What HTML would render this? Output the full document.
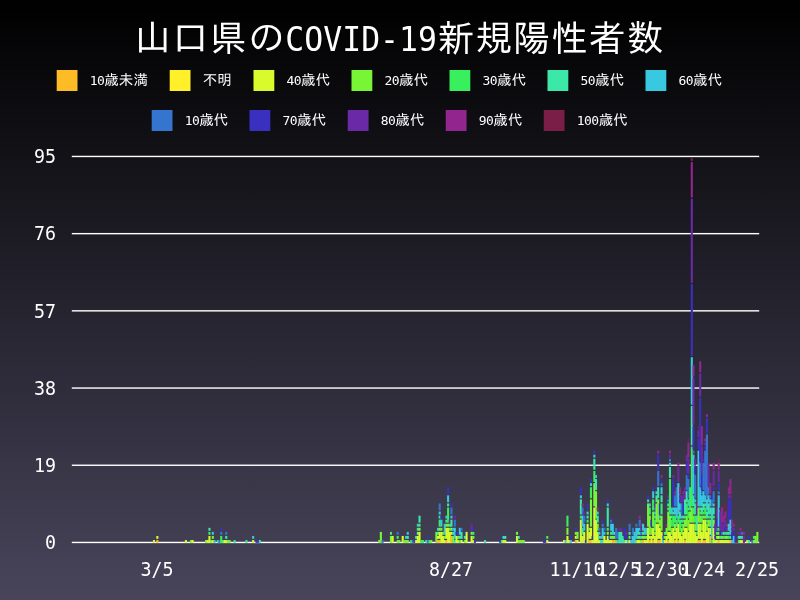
<!DOCTYPE html>
<html lang="ja"><head><meta charset="utf-8"><title>山口県のCOVID-19新規陽性者数</title>
<style>
html,body{margin:0;padding:0;background:#000}
body{width:800px;height:600px;overflow:hidden;font-family:"DejaVu Sans Mono","IPAGothic",monospace}
svg{display:block}
text{fill:#fff}
</style></head><body>
<svg width="800" height="600" viewBox="0 0 800 600">
<defs><linearGradient id="bg" x1="0" y1="0" x2="0" y2="1"><stop offset="0" stop-color="#000000"/><stop offset="1" stop-color="#48455b"/></linearGradient></defs>
<rect x="0" y="0" width="800" height="600" fill="url(#bg)"/>
<text x="133.8" y="51.3"><tspan font-family="IPAGothic,'WenQuanYi Zen Hei','Noto Sans CJK JP',sans-serif" font-size="36.2" letter-spacing="1.700" dx="0.85">山口県の</tspan><tspan font-family="'DejaVu Sans Mono','Liberation Mono',monospace" font-size="34.5" textLength="151.60" lengthAdjust="spacingAndGlyphs" dx="-0.85">COVID-19</tspan><tspan font-family="IPAGothic,'WenQuanYi Zen Hei','Noto Sans CJK JP',sans-serif" font-size="36.2" letter-spacing="1.700" dx="0.85">新規陽性者数</tspan></text>
<rect x="56.7" y="70" width="20.8" height="21" fill="#fdbc25"/>
<text x="89.7" y="85.3"><tspan font-family="'DejaVu Sans Mono','Liberation Mono',monospace" font-size="13" letter-spacing="-0.526">10</tspan><tspan font-family="IPAGothic,'WenQuanYi Zen Hei','Noto Sans CJK JP',sans-serif" font-size="14.55">歳未満</tspan></text>
<rect x="169.7" y="70" width="20.8" height="21" fill="#fff02a"/>
<text x="202.7" y="85.3"><tspan font-family="IPAGothic,'WenQuanYi Zen Hei','Noto Sans CJK JP',sans-serif" font-size="14.55">不明</tspan></text>
<rect x="253.5" y="70" width="20.8" height="21" fill="#d9fb2c"/>
<text x="286.5" y="85.3"><tspan font-family="'DejaVu Sans Mono','Liberation Mono',monospace" font-size="13" letter-spacing="-0.526">40</tspan><tspan font-family="IPAGothic,'WenQuanYi Zen Hei','Noto Sans CJK JP',sans-serif" font-size="14.55">歳代</tspan></text>
<rect x="351.5" y="70" width="20.8" height="21" fill="#78f534"/>
<text x="384.5" y="85.3"><tspan font-family="'DejaVu Sans Mono','Liberation Mono',monospace" font-size="13" letter-spacing="-0.526">20</tspan><tspan font-family="IPAGothic,'WenQuanYi Zen Hei','Noto Sans CJK JP',sans-serif" font-size="14.55">歳代</tspan></text>
<rect x="449.5" y="70" width="20.8" height="21" fill="#38f05e"/>
<text x="482.5" y="85.3"><tspan font-family="'DejaVu Sans Mono','Liberation Mono',monospace" font-size="13" letter-spacing="-0.526">30</tspan><tspan font-family="IPAGothic,'WenQuanYi Zen Hei','Noto Sans CJK JP',sans-serif" font-size="14.55">歳代</tspan></text>
<rect x="547.5" y="70" width="20.8" height="21" fill="#3ce8a8"/>
<text x="580.5" y="85.3"><tspan font-family="'DejaVu Sans Mono','Liberation Mono',monospace" font-size="13" letter-spacing="-0.526">50</tspan><tspan font-family="IPAGothic,'WenQuanYi Zen Hei','Noto Sans CJK JP',sans-serif" font-size="14.55">歳代</tspan></text>
<rect x="645.5" y="70" width="20.8" height="21" fill="#38c8e0"/>
<text x="678.5" y="85.3"><tspan font-family="'DejaVu Sans Mono','Liberation Mono',monospace" font-size="13" letter-spacing="-0.526">60</tspan><tspan font-family="IPAGothic,'WenQuanYi Zen Hei','Noto Sans CJK JP',sans-serif" font-size="14.55">歳代</tspan></text>
<rect x="151.7" y="110" width="20.8" height="21" fill="#3575d0"/>
<text x="184.7" y="125.3"><tspan font-family="'DejaVu Sans Mono','Liberation Mono',monospace" font-size="13" letter-spacing="-0.526">10</tspan><tspan font-family="IPAGothic,'WenQuanYi Zen Hei','Noto Sans CJK JP',sans-serif" font-size="14.55">歳代</tspan></text>
<rect x="249.5" y="110" width="20.8" height="21" fill="#3a30c0"/>
<text x="282.5" y="125.3"><tspan font-family="'DejaVu Sans Mono','Liberation Mono',monospace" font-size="13" letter-spacing="-0.526">70</tspan><tspan font-family="IPAGothic,'WenQuanYi Zen Hei','Noto Sans CJK JP',sans-serif" font-size="14.55">歳代</tspan></text>
<rect x="347.75" y="110" width="20.8" height="21" fill="#6a2aa8"/>
<text x="380.75" y="125.3"><tspan font-family="'DejaVu Sans Mono','Liberation Mono',monospace" font-size="13" letter-spacing="-0.526">80</tspan><tspan font-family="IPAGothic,'WenQuanYi Zen Hei','Noto Sans CJK JP',sans-serif" font-size="14.55">歳代</tspan></text>
<rect x="445.75" y="110" width="20.8" height="21" fill="#92268e"/>
<text x="478.75" y="125.3"><tspan font-family="'DejaVu Sans Mono','Liberation Mono',monospace" font-size="13" letter-spacing="-0.526">90</tspan><tspan font-family="IPAGothic,'WenQuanYi Zen Hei','Noto Sans CJK JP',sans-serif" font-size="14.55">歳代</tspan></text>
<rect x="543.75" y="110" width="20.8" height="21" fill="#7a1e48"/>
<text x="576.75" y="125.3"><tspan font-family="'DejaVu Sans Mono','Liberation Mono',monospace" font-size="13" letter-spacing="-0.526">100</tspan><tspan font-family="IPAGothic,'WenQuanYi Zen Hei','Noto Sans CJK JP',sans-serif" font-size="14.55">歳代</tspan></text>
<rect x="71.8" y="155.75" width="687.4" height="1.4" fill="#fff"/>
<text transform="translate(56,163.2) scale(0.94,1)" font-size="19.5" text-anchor="end" font-family="'DejaVu Sans Mono','Liberation Mono',monospace" >95</text>
<rect x="71.8" y="232.95" width="687.4" height="1.4" fill="#fff"/>
<text transform="translate(56,240.4) scale(0.94,1)" font-size="19.5" text-anchor="end" font-family="'DejaVu Sans Mono','Liberation Mono',monospace" >76</text>
<rect x="71.8" y="310.15" width="687.4" height="1.4" fill="#fff"/>
<text transform="translate(56,317.6) scale(0.94,1)" font-size="19.5" text-anchor="end" font-family="'DejaVu Sans Mono','Liberation Mono',monospace" >57</text>
<rect x="71.8" y="387.35" width="687.4" height="1.4" fill="#fff"/>
<text transform="translate(56,394.8) scale(0.94,1)" font-size="19.5" text-anchor="end" font-family="'DejaVu Sans Mono','Liberation Mono',monospace" >38</text>
<rect x="71.8" y="464.55" width="687.4" height="1.4" fill="#fff"/>
<text transform="translate(56,472) scale(0.94,1)" font-size="19.5" text-anchor="end" font-family="'DejaVu Sans Mono','Liberation Mono',monospace" >19</text>
<rect x="71.8" y="541.75" width="687.4" height="1.4" fill="#fff"/>
<text transform="translate(56,549.2) scale(0.94,1)" font-size="19.5" text-anchor="end" font-family="'DejaVu Sans Mono','Liberation Mono',monospace" >0</text>
<text transform="translate(157,576.2) scale(0.94,1)" font-size="19.5" text-anchor="middle" font-family="'DejaVu Sans Mono','Liberation Mono',monospace" >3/5</text>
<text transform="translate(451,576.2) scale(0.94,1)" font-size="19.5" text-anchor="middle" font-family="'DejaVu Sans Mono','Liberation Mono',monospace" >8/27</text>
<text transform="translate(577,576.2) scale(0.94,1)" font-size="19.5" text-anchor="middle" font-family="'DejaVu Sans Mono','Liberation Mono',monospace" >11/10</text>
<text transform="translate(619,576.2) scale(0.94,1)" font-size="19.5" text-anchor="middle" font-family="'DejaVu Sans Mono','Liberation Mono',monospace" >12/5</text>
<text transform="translate(661,576.2) scale(0.94,1)" font-size="19.5" text-anchor="middle" font-family="'DejaVu Sans Mono','Liberation Mono',monospace" >12/30</text>
<text transform="translate(703,576.2) scale(0.94,1)" font-size="19.5" text-anchor="middle" font-family="'DejaVu Sans Mono','Liberation Mono',monospace" >1/24</text>
<text transform="translate(757,576.2) scale(0.94,1)" font-size="19.5" text-anchor="middle" font-family="'DejaVu Sans Mono','Liberation Mono',monospace" >2/25</text>
<g id="bars" shape-rendering="auto">
<rect x="152.93" y="540.04" width="2.10" height="2.86" fill="#d9fb2c"/>
<rect x="156.30" y="540.04" width="2.10" height="2.86" fill="#fdbc25"/>
<rect x="156.30" y="535.97" width="2.10" height="2.86" fill="#d9fb2c"/>
<rect x="184.87" y="540.04" width="2.10" height="2.86" fill="#d9fb2c"/>
<rect x="189.91" y="540.04" width="2.10" height="2.86" fill="#78f534"/>
<rect x="191.59" y="540.04" width="2.10" height="2.86" fill="#d9fb2c"/>
<rect x="205.04" y="540.04" width="2.10" height="2.86" fill="#78f534"/>
<rect x="206.72" y="540.04" width="2.10" height="2.86" fill="#d9fb2c"/>
<rect x="208.40" y="535.97" width="2.10" height="6.93" fill="#d9fb2c"/>
<rect x="208.40" y="531.91" width="2.10" height="2.86" fill="#38f05e"/>
<rect x="208.40" y="527.85" width="2.10" height="2.86" fill="#3ce8a8"/>
<rect x="210.08" y="540.04" width="2.10" height="2.86" fill="#78f534"/>
<rect x="211.76" y="540.04" width="2.10" height="2.86" fill="#d9fb2c"/>
<rect x="211.76" y="535.97" width="2.10" height="2.86" fill="#78f534"/>
<rect x="211.76" y="531.91" width="2.10" height="2.86" fill="#38c8e0"/>
<rect x="213.44" y="540.04" width="2.10" height="2.86" fill="#38c8e0"/>
<rect x="216.80" y="540.04" width="2.10" height="2.86" fill="#3ce8a8"/>
<rect x="218.48" y="540.04" width="2.10" height="2.86" fill="#3575d0"/>
<rect x="220.16" y="535.97" width="2.10" height="6.93" fill="#38f05e"/>
<rect x="220.16" y="531.91" width="2.10" height="2.86" fill="#3575d0"/>
<rect x="220.16" y="527.85" width="2.10" height="2.86" fill="#3a30c0"/>
<rect x="221.84" y="540.04" width="2.10" height="2.86" fill="#38f05e"/>
<rect x="223.52" y="540.04" width="2.10" height="2.86" fill="#d9fb2c"/>
<rect x="225.20" y="540.04" width="2.10" height="2.86" fill="#d9fb2c"/>
<rect x="225.20" y="535.97" width="2.10" height="2.86" fill="#3ce8a8"/>
<rect x="225.20" y="531.91" width="2.10" height="2.86" fill="#3575d0"/>
<rect x="226.88" y="540.04" width="2.10" height="2.86" fill="#78f534"/>
<rect x="228.57" y="540.04" width="2.10" height="2.86" fill="#78f534"/>
<rect x="233.61" y="540.04" width="2.10" height="2.86" fill="#3ce8a8"/>
<rect x="245.37" y="540.04" width="2.10" height="2.86" fill="#3ce8a8"/>
<rect x="252.10" y="540.04" width="2.10" height="2.86" fill="#d9fb2c"/>
<rect x="252.10" y="535.97" width="2.10" height="2.86" fill="#38c8e0"/>
<rect x="255.46" y="540.04" width="2.10" height="2.86" fill="#3a30c0"/>
<rect x="257.14" y="540.04" width="2.10" height="2.86" fill="#3a30c0"/>
<rect x="258.82" y="540.04" width="2.10" height="2.86" fill="#3ce8a8"/>
<rect x="378.15" y="540.04" width="2.10" height="2.86" fill="#78f534"/>
<rect x="379.83" y="531.91" width="2.10" height="10.99" fill="#78f534"/>
<rect x="381.51" y="540.04" width="2.10" height="2.86" fill="#3575d0"/>
<rect x="389.91" y="535.97" width="2.10" height="6.93" fill="#78f534"/>
<rect x="389.91" y="531.91" width="2.10" height="2.86" fill="#38f05e"/>
<rect x="391.59" y="535.97" width="2.10" height="6.93" fill="#d9fb2c"/>
<rect x="396.64" y="540.04" width="2.10" height="2.86" fill="#78f534"/>
<rect x="396.64" y="535.97" width="2.10" height="2.86" fill="#38f05e"/>
<rect x="396.64" y="531.91" width="2.10" height="2.86" fill="#3575d0"/>
<rect x="398.32" y="540.04" width="2.10" height="2.86" fill="#78f534"/>
<rect x="401.68" y="535.97" width="2.10" height="6.93" fill="#d9fb2c"/>
<rect x="403.36" y="540.04" width="2.10" height="2.86" fill="#78f534"/>
<rect x="405.04" y="540.04" width="2.10" height="2.86" fill="#78f534"/>
<rect x="405.04" y="535.97" width="2.10" height="2.86" fill="#38c8e0"/>
<rect x="406.72" y="540.04" width="2.10" height="2.86" fill="#78f534"/>
<rect x="406.72" y="535.97" width="2.10" height="2.86" fill="#3ce8a8"/>
<rect x="406.72" y="531.91" width="2.10" height="2.86" fill="#38c8e0"/>
<rect x="410.08" y="540.04" width="2.10" height="2.86" fill="#38f05e"/>
<rect x="411.76" y="540.04" width="2.10" height="2.86" fill="#3575d0"/>
<rect x="413.44" y="540.04" width="2.10" height="2.86" fill="#3a30c0"/>
<rect x="415.12" y="540.04" width="2.10" height="2.86" fill="#d9fb2c"/>
<rect x="415.12" y="535.97" width="2.10" height="2.86" fill="#3ce8a8"/>
<rect x="415.12" y="531.91" width="2.10" height="2.86" fill="#3a30c0"/>
<rect x="416.80" y="535.97" width="2.10" height="6.93" fill="#d9fb2c"/>
<rect x="416.80" y="531.91" width="2.10" height="2.86" fill="#78f534"/>
<rect x="416.80" y="527.85" width="2.10" height="2.86" fill="#3ce8a8"/>
<rect x="416.80" y="523.78" width="2.10" height="2.86" fill="#38c8e0"/>
<rect x="418.48" y="531.91" width="2.10" height="10.99" fill="#d9fb2c"/>
<rect x="418.48" y="527.85" width="2.10" height="2.86" fill="#78f534"/>
<rect x="418.48" y="523.78" width="2.10" height="2.86" fill="#38f05e"/>
<rect x="418.48" y="515.66" width="2.10" height="6.93" fill="#3ce8a8"/>
<rect x="420.17" y="540.04" width="2.10" height="2.86" fill="#38f05e"/>
<rect x="421.85" y="540.04" width="2.10" height="2.86" fill="#38f05e"/>
<rect x="425.21" y="540.04" width="2.10" height="2.86" fill="#3ce8a8"/>
<rect x="426.89" y="540.04" width="2.10" height="2.86" fill="#3575d0"/>
<rect x="426.89" y="535.97" width="2.10" height="2.86" fill="#3a30c0"/>
<rect x="428.57" y="540.04" width="2.10" height="2.86" fill="#38f05e"/>
<rect x="430.25" y="540.04" width="2.10" height="2.86" fill="#78f534"/>
<rect x="435.29" y="531.91" width="2.10" height="10.99" fill="#78f534"/>
<rect x="436.97" y="540.04" width="2.10" height="2.86" fill="#fdbc25"/>
<rect x="436.97" y="535.97" width="2.10" height="2.86" fill="#d9fb2c"/>
<rect x="436.97" y="531.91" width="2.10" height="2.86" fill="#3ce8a8"/>
<rect x="436.97" y="527.85" width="2.10" height="2.86" fill="#38c8e0"/>
<rect x="438.65" y="540.04" width="2.10" height="2.86" fill="#fdbc25"/>
<rect x="438.65" y="531.91" width="2.10" height="6.93" fill="#d9fb2c"/>
<rect x="438.65" y="527.85" width="2.10" height="2.86" fill="#78f534"/>
<rect x="438.65" y="519.72" width="2.10" height="6.93" fill="#38f05e"/>
<rect x="438.65" y="515.66" width="2.10" height="2.86" fill="#3ce8a8"/>
<rect x="438.65" y="511.59" width="2.10" height="2.86" fill="#38c8e0"/>
<rect x="438.65" y="503.47" width="2.10" height="6.93" fill="#3575d0"/>
<rect x="440.33" y="531.91" width="2.10" height="10.99" fill="#d9fb2c"/>
<rect x="440.33" y="527.85" width="2.10" height="2.86" fill="#78f534"/>
<rect x="440.33" y="519.72" width="2.10" height="6.93" fill="#38c8e0"/>
<rect x="440.33" y="515.66" width="2.10" height="2.86" fill="#3a30c0"/>
<rect x="442.01" y="535.97" width="2.10" height="6.93" fill="#d9fb2c"/>
<rect x="442.01" y="531.91" width="2.10" height="2.86" fill="#78f534"/>
<rect x="443.70" y="540.04" width="2.10" height="2.86" fill="#d9fb2c"/>
<rect x="443.70" y="535.97" width="2.10" height="2.86" fill="#78f534"/>
<rect x="443.70" y="523.78" width="2.10" height="10.99" fill="#38c8e0"/>
<rect x="445.38" y="540.04" width="2.10" height="2.86" fill="#fdbc25"/>
<rect x="445.38" y="527.85" width="2.10" height="10.99" fill="#d9fb2c"/>
<rect x="445.38" y="523.78" width="2.10" height="2.86" fill="#78f534"/>
<rect x="445.38" y="519.72" width="2.10" height="2.86" fill="#3ce8a8"/>
<rect x="445.38" y="515.66" width="2.10" height="2.86" fill="#38c8e0"/>
<rect x="447.06" y="527.85" width="2.10" height="15.05" fill="#d9fb2c"/>
<rect x="447.06" y="523.78" width="2.10" height="2.86" fill="#78f534"/>
<rect x="447.06" y="507.53" width="2.10" height="15.05" fill="#38f05e"/>
<rect x="447.06" y="503.47" width="2.10" height="2.86" fill="#3ce8a8"/>
<rect x="447.06" y="495.34" width="2.10" height="6.93" fill="#38c8e0"/>
<rect x="447.06" y="487.22" width="2.10" height="6.93" fill="#3a30c0"/>
<rect x="448.74" y="531.91" width="2.10" height="10.99" fill="#d9fb2c"/>
<rect x="448.74" y="527.85" width="2.10" height="2.86" fill="#78f534"/>
<rect x="448.74" y="523.78" width="2.10" height="2.86" fill="#38f05e"/>
<rect x="448.74" y="519.72" width="2.10" height="2.86" fill="#6a2aa8"/>
<rect x="450.42" y="535.97" width="2.10" height="6.93" fill="#fdbc25"/>
<rect x="450.42" y="531.91" width="2.10" height="2.86" fill="#d9fb2c"/>
<rect x="450.42" y="527.85" width="2.10" height="2.86" fill="#78f534"/>
<rect x="450.42" y="519.72" width="2.10" height="6.93" fill="#3ce8a8"/>
<rect x="450.42" y="515.66" width="2.10" height="2.86" fill="#38c8e0"/>
<rect x="450.42" y="507.53" width="2.10" height="6.93" fill="#3575d0"/>
<rect x="450.42" y="503.47" width="2.10" height="2.86" fill="#3a30c0"/>
<rect x="452.10" y="535.97" width="2.10" height="6.93" fill="#78f534"/>
<rect x="452.10" y="531.91" width="2.10" height="2.86" fill="#3ce8a8"/>
<rect x="452.10" y="527.85" width="2.10" height="2.86" fill="#38c8e0"/>
<rect x="453.78" y="540.04" width="2.10" height="2.86" fill="#3ce8a8"/>
<rect x="453.78" y="527.85" width="2.10" height="10.99" fill="#38c8e0"/>
<rect x="453.78" y="519.72" width="2.10" height="6.93" fill="#3575d0"/>
<rect x="453.78" y="515.66" width="2.10" height="2.86" fill="#6a2aa8"/>
<rect x="455.46" y="535.97" width="2.10" height="6.93" fill="#d9fb2c"/>
<rect x="455.46" y="531.91" width="2.10" height="2.86" fill="#3a30c0"/>
<rect x="457.14" y="540.04" width="2.10" height="2.86" fill="#d9fb2c"/>
<rect x="457.14" y="535.97" width="2.10" height="2.86" fill="#78f534"/>
<rect x="457.14" y="531.91" width="2.10" height="2.86" fill="#3a30c0"/>
<rect x="458.82" y="540.04" width="2.10" height="2.86" fill="#38f05e"/>
<rect x="458.82" y="535.97" width="2.10" height="2.86" fill="#3ce8a8"/>
<rect x="458.82" y="527.85" width="2.10" height="6.93" fill="#38c8e0"/>
<rect x="460.50" y="540.04" width="2.10" height="2.86" fill="#d9fb2c"/>
<rect x="460.50" y="531.91" width="2.10" height="6.93" fill="#3ce8a8"/>
<rect x="460.50" y="527.85" width="2.10" height="2.86" fill="#3575d0"/>
<rect x="463.86" y="540.04" width="2.10" height="2.86" fill="#78f534"/>
<rect x="463.86" y="535.97" width="2.10" height="2.86" fill="#3ce8a8"/>
<rect x="463.86" y="531.91" width="2.10" height="2.86" fill="#3a30c0"/>
<rect x="465.54" y="531.91" width="2.10" height="10.99" fill="#d9fb2c"/>
<rect x="470.59" y="535.97" width="2.10" height="6.93" fill="#d9fb2c"/>
<rect x="470.59" y="531.91" width="2.10" height="2.86" fill="#78f534"/>
<rect x="470.59" y="523.78" width="2.10" height="6.93" fill="#6a2aa8"/>
<rect x="472.27" y="540.04" width="2.10" height="2.86" fill="#d9fb2c"/>
<rect x="472.27" y="535.97" width="2.10" height="2.86" fill="#78f534"/>
<rect x="472.27" y="531.91" width="2.10" height="2.86" fill="#38f05e"/>
<rect x="472.27" y="527.85" width="2.10" height="2.86" fill="#3a30c0"/>
<rect x="473.95" y="540.04" width="2.10" height="2.86" fill="#3a30c0"/>
<rect x="484.03" y="540.04" width="2.10" height="2.86" fill="#3ce8a8"/>
<rect x="499.16" y="540.04" width="2.10" height="2.86" fill="#3a30c0"/>
<rect x="500.84" y="540.04" width="2.10" height="2.86" fill="#38f05e"/>
<rect x="500.84" y="535.97" width="2.10" height="2.86" fill="#3a30c0"/>
<rect x="502.52" y="540.04" width="2.10" height="2.86" fill="#d9fb2c"/>
<rect x="502.52" y="535.97" width="2.10" height="2.86" fill="#3ce8a8"/>
<rect x="504.20" y="540.04" width="2.10" height="2.86" fill="#d9fb2c"/>
<rect x="504.20" y="535.97" width="2.10" height="2.86" fill="#3ce8a8"/>
<rect x="515.97" y="535.97" width="2.10" height="6.93" fill="#d9fb2c"/>
<rect x="515.97" y="531.91" width="2.10" height="2.86" fill="#78f534"/>
<rect x="517.65" y="540.04" width="2.10" height="2.86" fill="#78f534"/>
<rect x="517.65" y="535.97" width="2.10" height="2.86" fill="#3ce8a8"/>
<rect x="519.33" y="540.04" width="2.10" height="2.86" fill="#78f534"/>
<rect x="521.01" y="540.04" width="2.10" height="2.86" fill="#78f534"/>
<rect x="522.69" y="540.04" width="2.10" height="2.86" fill="#78f534"/>
<rect x="542.86" y="540.04" width="2.10" height="2.86" fill="#3a30c0"/>
<rect x="544.54" y="540.04" width="2.10" height="2.86" fill="#3a30c0"/>
<rect x="546.22" y="540.04" width="2.10" height="2.86" fill="#d9fb2c"/>
<rect x="546.22" y="535.97" width="2.10" height="2.86" fill="#38f05e"/>
<rect x="563.02" y="540.04" width="2.10" height="2.86" fill="#d9fb2c"/>
<rect x="564.71" y="540.04" width="2.10" height="2.86" fill="#38c8e0"/>
<rect x="566.39" y="535.97" width="2.10" height="6.93" fill="#d9fb2c"/>
<rect x="566.39" y="527.85" width="2.10" height="6.93" fill="#78f534"/>
<rect x="566.39" y="515.66" width="2.10" height="10.99" fill="#38f05e"/>
<rect x="568.07" y="540.04" width="2.10" height="2.86" fill="#d9fb2c"/>
<rect x="569.75" y="540.04" width="2.10" height="2.86" fill="#38c8e0"/>
<rect x="569.75" y="535.97" width="2.10" height="2.86" fill="#3a30c0"/>
<rect x="574.79" y="540.04" width="2.10" height="2.86" fill="#fdbc25"/>
<rect x="574.79" y="535.97" width="2.10" height="2.86" fill="#d9fb2c"/>
<rect x="574.79" y="531.91" width="2.10" height="2.86" fill="#78f534"/>
<rect x="574.79" y="527.85" width="2.10" height="2.86" fill="#3a30c0"/>
<rect x="576.47" y="540.04" width="2.10" height="2.86" fill="#d9fb2c"/>
<rect x="576.47" y="531.91" width="2.10" height="6.93" fill="#78f534"/>
<rect x="579.83" y="519.72" width="2.10" height="23.18" fill="#d9fb2c"/>
<rect x="579.83" y="515.66" width="2.10" height="2.86" fill="#38f05e"/>
<rect x="579.83" y="499.41" width="2.10" height="15.05" fill="#3ce8a8"/>
<rect x="579.83" y="495.34" width="2.10" height="2.86" fill="#38c8e0"/>
<rect x="579.83" y="487.22" width="2.10" height="6.93" fill="#3a30c0"/>
<rect x="581.51" y="535.97" width="2.10" height="6.93" fill="#d9fb2c"/>
<rect x="581.51" y="527.85" width="2.10" height="6.93" fill="#3ce8a8"/>
<rect x="581.51" y="515.66" width="2.10" height="10.99" fill="#38c8e0"/>
<rect x="581.51" y="507.53" width="2.10" height="6.93" fill="#3575d0"/>
<rect x="581.51" y="503.47" width="2.10" height="2.86" fill="#92268e"/>
<rect x="583.19" y="531.91" width="2.10" height="10.99" fill="#d9fb2c"/>
<rect x="583.19" y="523.78" width="2.10" height="6.93" fill="#38c8e0"/>
<rect x="583.19" y="515.66" width="2.10" height="6.93" fill="#3575d0"/>
<rect x="583.19" y="511.59" width="2.10" height="2.86" fill="#6a2aa8"/>
<rect x="584.87" y="540.04" width="2.10" height="2.86" fill="#3a30c0"/>
<rect x="586.55" y="523.78" width="2.10" height="19.12" fill="#d9fb2c"/>
<rect x="586.55" y="519.72" width="2.10" height="2.86" fill="#38f05e"/>
<rect x="586.55" y="515.66" width="2.10" height="2.86" fill="#3ce8a8"/>
<rect x="586.55" y="511.59" width="2.10" height="2.86" fill="#38c8e0"/>
<rect x="586.55" y="503.47" width="2.10" height="6.93" fill="#3a30c0"/>
<rect x="588.24" y="540.04" width="2.10" height="2.86" fill="#fdbc25"/>
<rect x="588.24" y="531.91" width="2.10" height="6.93" fill="#d9fb2c"/>
<rect x="588.24" y="527.85" width="2.10" height="2.86" fill="#78f534"/>
<rect x="589.92" y="540.04" width="2.10" height="2.86" fill="#fdbc25"/>
<rect x="589.92" y="527.85" width="2.10" height="10.99" fill="#d9fb2c"/>
<rect x="589.92" y="499.41" width="2.10" height="27.24" fill="#78f534"/>
<rect x="589.92" y="487.22" width="2.10" height="10.99" fill="#38f05e"/>
<rect x="589.92" y="483.15" width="2.10" height="2.86" fill="#38c8e0"/>
<rect x="589.92" y="479.09" width="2.10" height="2.86" fill="#3a30c0"/>
<rect x="591.60" y="540.04" width="2.10" height="2.86" fill="#d9fb2c"/>
<rect x="591.60" y="535.97" width="2.10" height="2.86" fill="#3a30c0"/>
<rect x="593.28" y="507.53" width="2.10" height="35.37" fill="#d9fb2c"/>
<rect x="593.28" y="483.15" width="2.10" height="23.18" fill="#78f534"/>
<rect x="593.28" y="470.96" width="2.10" height="10.99" fill="#38f05e"/>
<rect x="593.28" y="458.77" width="2.10" height="10.99" fill="#3ce8a8"/>
<rect x="593.28" y="454.71" width="2.10" height="2.86" fill="#38c8e0"/>
<rect x="593.28" y="450.65" width="2.10" height="2.86" fill="#3a30c0"/>
<rect x="594.96" y="519.72" width="2.10" height="23.18" fill="#d9fb2c"/>
<rect x="594.96" y="491.28" width="2.10" height="27.24" fill="#78f534"/>
<rect x="594.96" y="479.09" width="2.10" height="10.99" fill="#3ce8a8"/>
<rect x="594.96" y="475.03" width="2.10" height="2.86" fill="#38c8e0"/>
<rect x="596.64" y="531.91" width="2.10" height="10.99" fill="#d9fb2c"/>
<rect x="596.64" y="523.78" width="2.10" height="6.93" fill="#78f534"/>
<rect x="596.64" y="515.66" width="2.10" height="6.93" fill="#3ce8a8"/>
<rect x="596.64" y="511.59" width="2.10" height="2.86" fill="#38c8e0"/>
<rect x="596.64" y="507.53" width="2.10" height="2.86" fill="#92268e"/>
<rect x="598.32" y="540.04" width="2.10" height="2.86" fill="#d9fb2c"/>
<rect x="598.32" y="535.97" width="2.10" height="2.86" fill="#3ce8a8"/>
<rect x="598.32" y="531.91" width="2.10" height="2.86" fill="#38c8e0"/>
<rect x="598.32" y="527.85" width="2.10" height="2.86" fill="#3575d0"/>
<rect x="600.00" y="540.04" width="2.10" height="2.86" fill="#3ce8a8"/>
<rect x="600.00" y="535.97" width="2.10" height="2.86" fill="#38c8e0"/>
<rect x="601.68" y="540.04" width="2.10" height="2.86" fill="#3ce8a8"/>
<rect x="601.68" y="527.85" width="2.10" height="10.99" fill="#38c8e0"/>
<rect x="601.68" y="523.78" width="2.10" height="2.86" fill="#3575d0"/>
<rect x="601.68" y="519.72" width="2.10" height="2.86" fill="#3a30c0"/>
<rect x="603.36" y="535.97" width="2.10" height="6.93" fill="#d9fb2c"/>
<rect x="603.36" y="531.91" width="2.10" height="2.86" fill="#38c8e0"/>
<rect x="603.36" y="527.85" width="2.10" height="2.86" fill="#3575d0"/>
<rect x="605.04" y="540.04" width="2.10" height="2.86" fill="#d9fb2c"/>
<rect x="606.72" y="535.97" width="2.10" height="6.93" fill="#d9fb2c"/>
<rect x="606.72" y="531.91" width="2.10" height="2.86" fill="#78f534"/>
<rect x="606.72" y="527.85" width="2.10" height="2.86" fill="#38f05e"/>
<rect x="606.72" y="507.53" width="2.10" height="19.12" fill="#3ce8a8"/>
<rect x="606.72" y="503.47" width="2.10" height="2.86" fill="#38c8e0"/>
<rect x="606.72" y="499.41" width="2.10" height="2.86" fill="#3a30c0"/>
<rect x="608.40" y="540.04" width="2.10" height="2.86" fill="#d9fb2c"/>
<rect x="608.40" y="535.97" width="2.10" height="2.86" fill="#3575d0"/>
<rect x="610.08" y="540.04" width="2.10" height="2.86" fill="#d9fb2c"/>
<rect x="610.08" y="535.97" width="2.10" height="2.86" fill="#78f534"/>
<rect x="610.08" y="531.91" width="2.10" height="2.86" fill="#38f05e"/>
<rect x="610.08" y="523.78" width="2.10" height="6.93" fill="#38c8e0"/>
<rect x="610.08" y="519.72" width="2.10" height="2.86" fill="#3575d0"/>
<rect x="611.77" y="540.04" width="2.10" height="2.86" fill="#fdbc25"/>
<rect x="611.77" y="535.97" width="2.10" height="2.86" fill="#78f534"/>
<rect x="611.77" y="523.78" width="2.10" height="10.99" fill="#38c8e0"/>
<rect x="611.77" y="519.72" width="2.10" height="2.86" fill="#3a30c0"/>
<rect x="613.45" y="540.04" width="2.10" height="2.86" fill="#fdbc25"/>
<rect x="613.45" y="535.97" width="2.10" height="2.86" fill="#78f534"/>
<rect x="613.45" y="531.91" width="2.10" height="2.86" fill="#3ce8a8"/>
<rect x="615.13" y="540.04" width="2.10" height="2.86" fill="#78f534"/>
<rect x="615.13" y="527.85" width="2.10" height="10.99" fill="#3575d0"/>
<rect x="616.81" y="540.04" width="2.10" height="2.86" fill="#38c8e0"/>
<rect x="616.81" y="531.91" width="2.10" height="6.93" fill="#3575d0"/>
<rect x="618.49" y="531.91" width="2.10" height="10.99" fill="#3ce8a8"/>
<rect x="618.49" y="527.85" width="2.10" height="2.86" fill="#6a2aa8"/>
<rect x="620.17" y="531.91" width="2.10" height="10.99" fill="#3ce8a8"/>
<rect x="620.17" y="527.85" width="2.10" height="2.86" fill="#6a2aa8"/>
<rect x="621.85" y="535.97" width="2.10" height="6.93" fill="#3ce8a8"/>
<rect x="623.53" y="540.04" width="2.10" height="2.86" fill="#3ce8a8"/>
<rect x="623.53" y="527.85" width="2.10" height="10.99" fill="#3a30c0"/>
<rect x="625.21" y="540.04" width="2.10" height="2.86" fill="#d9fb2c"/>
<rect x="625.21" y="535.97" width="2.10" height="2.86" fill="#3a30c0"/>
<rect x="625.21" y="531.91" width="2.10" height="2.86" fill="#6a2aa8"/>
<rect x="626.89" y="540.04" width="2.10" height="2.86" fill="#38c8e0"/>
<rect x="628.57" y="540.04" width="2.10" height="2.86" fill="#d9fb2c"/>
<rect x="628.57" y="535.97" width="2.10" height="2.86" fill="#78f534"/>
<rect x="628.57" y="531.91" width="2.10" height="2.86" fill="#3ce8a8"/>
<rect x="628.57" y="523.78" width="2.10" height="6.93" fill="#3575d0"/>
<rect x="630.25" y="540.04" width="2.10" height="2.86" fill="#38c8e0"/>
<rect x="630.25" y="535.97" width="2.10" height="2.86" fill="#3575d0"/>
<rect x="631.93" y="535.97" width="2.10" height="6.93" fill="#38c8e0"/>
<rect x="631.93" y="527.85" width="2.10" height="6.93" fill="#3575d0"/>
<rect x="633.61" y="531.91" width="2.10" height="10.99" fill="#38c8e0"/>
<rect x="635.29" y="540.04" width="2.10" height="2.86" fill="#78f534"/>
<rect x="635.29" y="527.85" width="2.10" height="10.99" fill="#38c8e0"/>
<rect x="635.29" y="523.78" width="2.10" height="2.86" fill="#3575d0"/>
<rect x="636.98" y="540.04" width="2.10" height="2.86" fill="#d9fb2c"/>
<rect x="636.98" y="535.97" width="2.10" height="2.86" fill="#3ce8a8"/>
<rect x="636.98" y="527.85" width="2.10" height="6.93" fill="#38c8e0"/>
<rect x="638.66" y="540.04" width="2.10" height="2.86" fill="#d9fb2c"/>
<rect x="638.66" y="535.97" width="2.10" height="2.86" fill="#78f534"/>
<rect x="638.66" y="531.91" width="2.10" height="2.86" fill="#3ce8a8"/>
<rect x="638.66" y="527.85" width="2.10" height="2.86" fill="#38c8e0"/>
<rect x="638.66" y="519.72" width="2.10" height="6.93" fill="#3575d0"/>
<rect x="638.66" y="515.66" width="2.10" height="2.86" fill="#92268e"/>
<rect x="640.34" y="540.04" width="2.10" height="2.86" fill="#78f534"/>
<rect x="640.34" y="535.97" width="2.10" height="2.86" fill="#3ce8a8"/>
<rect x="640.34" y="531.91" width="2.10" height="2.86" fill="#3575d0"/>
<rect x="640.34" y="527.85" width="2.10" height="2.86" fill="#6a2aa8"/>
<rect x="640.34" y="523.78" width="2.10" height="2.86" fill="#92268e"/>
<rect x="642.02" y="540.04" width="2.10" height="2.86" fill="#fdbc25"/>
<rect x="642.02" y="535.97" width="2.10" height="2.86" fill="#78f534"/>
<rect x="642.02" y="531.91" width="2.10" height="2.86" fill="#3ce8a8"/>
<rect x="642.02" y="523.78" width="2.10" height="6.93" fill="#38c8e0"/>
<rect x="643.70" y="540.04" width="2.10" height="2.86" fill="#d9fb2c"/>
<rect x="643.70" y="535.97" width="2.10" height="2.86" fill="#78f534"/>
<rect x="643.70" y="527.85" width="2.10" height="6.93" fill="#38c8e0"/>
<rect x="645.38" y="540.04" width="2.10" height="2.86" fill="#d9fb2c"/>
<rect x="645.38" y="535.97" width="2.10" height="2.86" fill="#78f534"/>
<rect x="645.38" y="527.85" width="2.10" height="6.93" fill="#38c8e0"/>
<rect x="647.06" y="527.85" width="2.10" height="15.05" fill="#d9fb2c"/>
<rect x="647.06" y="503.47" width="2.10" height="23.18" fill="#78f534"/>
<rect x="647.06" y="499.41" width="2.10" height="2.86" fill="#38c8e0"/>
<rect x="647.06" y="495.34" width="2.10" height="2.86" fill="#3a30c0"/>
<rect x="648.74" y="540.04" width="2.10" height="2.86" fill="#fdbc25"/>
<rect x="648.74" y="535.97" width="2.10" height="2.86" fill="#d9fb2c"/>
<rect x="648.74" y="515.66" width="2.10" height="19.12" fill="#78f534"/>
<rect x="648.74" y="507.53" width="2.10" height="6.93" fill="#38f05e"/>
<rect x="648.74" y="503.47" width="2.10" height="2.86" fill="#38c8e0"/>
<rect x="650.42" y="535.97" width="2.10" height="6.93" fill="#d9fb2c"/>
<rect x="650.42" y="527.85" width="2.10" height="6.93" fill="#78f534"/>
<rect x="650.42" y="519.72" width="2.10" height="6.93" fill="#3a30c0"/>
<rect x="652.10" y="540.04" width="2.10" height="2.86" fill="#fdbc25"/>
<rect x="652.10" y="527.85" width="2.10" height="10.99" fill="#d9fb2c"/>
<rect x="652.10" y="511.59" width="2.10" height="15.05" fill="#78f534"/>
<rect x="652.10" y="499.41" width="2.10" height="10.99" fill="#38f05e"/>
<rect x="652.10" y="491.28" width="2.10" height="6.93" fill="#38c8e0"/>
<rect x="652.10" y="487.22" width="2.10" height="2.86" fill="#3a30c0"/>
<rect x="653.78" y="535.97" width="2.10" height="6.93" fill="#d9fb2c"/>
<rect x="653.78" y="531.91" width="2.10" height="2.86" fill="#78f534"/>
<rect x="653.78" y="519.72" width="2.10" height="10.99" fill="#38f05e"/>
<rect x="653.78" y="515.66" width="2.10" height="2.86" fill="#3ce8a8"/>
<rect x="653.78" y="511.59" width="2.10" height="2.86" fill="#38c8e0"/>
<rect x="653.78" y="507.53" width="2.10" height="2.86" fill="#3575d0"/>
<rect x="653.78" y="503.47" width="2.10" height="2.86" fill="#6a2aa8"/>
<rect x="655.46" y="523.78" width="2.10" height="19.12" fill="#d9fb2c"/>
<rect x="655.46" y="503.47" width="2.10" height="19.12" fill="#78f534"/>
<rect x="655.46" y="495.34" width="2.10" height="6.93" fill="#3ce8a8"/>
<rect x="655.46" y="491.28" width="2.10" height="2.86" fill="#38c8e0"/>
<rect x="655.46" y="487.22" width="2.10" height="2.86" fill="#3a30c0"/>
<rect x="657.14" y="540.04" width="2.10" height="2.86" fill="#fdbc25"/>
<rect x="657.14" y="523.78" width="2.10" height="15.05" fill="#d9fb2c"/>
<rect x="657.14" y="499.41" width="2.10" height="23.18" fill="#78f534"/>
<rect x="657.14" y="487.22" width="2.10" height="10.99" fill="#3ce8a8"/>
<rect x="657.14" y="470.96" width="2.10" height="15.05" fill="#3575d0"/>
<rect x="657.14" y="454.71" width="2.10" height="15.05" fill="#3a30c0"/>
<rect x="657.14" y="450.65" width="2.10" height="2.86" fill="#92268e"/>
<rect x="658.82" y="540.04" width="2.10" height="2.86" fill="#fdbc25"/>
<rect x="658.82" y="527.85" width="2.10" height="10.99" fill="#d9fb2c"/>
<rect x="658.82" y="519.72" width="2.10" height="6.93" fill="#78f534"/>
<rect x="658.82" y="515.66" width="2.10" height="2.86" fill="#38c8e0"/>
<rect x="658.82" y="503.47" width="2.10" height="10.99" fill="#3a30c0"/>
<rect x="660.51" y="531.91" width="2.10" height="10.99" fill="#d9fb2c"/>
<rect x="660.51" y="515.66" width="2.10" height="15.05" fill="#78f534"/>
<rect x="660.51" y="503.47" width="2.10" height="10.99" fill="#38f05e"/>
<rect x="660.51" y="495.34" width="2.10" height="6.93" fill="#3ce8a8"/>
<rect x="660.51" y="487.22" width="2.10" height="6.93" fill="#38c8e0"/>
<rect x="660.51" y="483.15" width="2.10" height="2.86" fill="#3575d0"/>
<rect x="660.51" y="479.09" width="2.10" height="2.86" fill="#3a30c0"/>
<rect x="660.51" y="475.03" width="2.10" height="2.86" fill="#92268e"/>
<rect x="662.19" y="540.04" width="2.10" height="2.86" fill="#38c8e0"/>
<rect x="662.19" y="535.97" width="2.10" height="2.86" fill="#3575d0"/>
<rect x="663.87" y="540.04" width="2.10" height="2.86" fill="#d9fb2c"/>
<rect x="663.87" y="535.97" width="2.10" height="2.86" fill="#78f534"/>
<rect x="663.87" y="531.91" width="2.10" height="2.86" fill="#3ce8a8"/>
<rect x="665.55" y="535.97" width="2.10" height="6.93" fill="#d9fb2c"/>
<rect x="665.55" y="527.85" width="2.10" height="6.93" fill="#78f534"/>
<rect x="665.55" y="523.78" width="2.10" height="2.86" fill="#92268e"/>
<rect x="667.23" y="540.04" width="2.10" height="2.86" fill="#fdbc25"/>
<rect x="667.23" y="531.91" width="2.10" height="6.93" fill="#d9fb2c"/>
<rect x="667.23" y="511.59" width="2.10" height="19.12" fill="#78f534"/>
<rect x="667.23" y="507.53" width="2.10" height="2.86" fill="#38f05e"/>
<rect x="667.23" y="503.47" width="2.10" height="2.86" fill="#3ce8a8"/>
<rect x="667.23" y="499.41" width="2.10" height="2.86" fill="#3575d0"/>
<rect x="667.23" y="495.34" width="2.10" height="2.86" fill="#6a2aa8"/>
<rect x="668.91" y="531.91" width="2.10" height="10.99" fill="#d9fb2c"/>
<rect x="668.91" y="515.66" width="2.10" height="15.05" fill="#78f534"/>
<rect x="668.91" y="479.09" width="2.10" height="35.37" fill="#38f05e"/>
<rect x="668.91" y="466.90" width="2.10" height="10.99" fill="#3ce8a8"/>
<rect x="668.91" y="462.84" width="2.10" height="2.86" fill="#38c8e0"/>
<rect x="668.91" y="458.77" width="2.10" height="2.86" fill="#3575d0"/>
<rect x="668.91" y="454.71" width="2.10" height="2.86" fill="#6a2aa8"/>
<rect x="668.91" y="450.65" width="2.10" height="2.86" fill="#92268e"/>
<rect x="670.59" y="535.97" width="2.10" height="6.93" fill="#d9fb2c"/>
<rect x="670.59" y="527.85" width="2.10" height="6.93" fill="#78f534"/>
<rect x="670.59" y="519.72" width="2.10" height="6.93" fill="#38f05e"/>
<rect x="670.59" y="515.66" width="2.10" height="2.86" fill="#3ce8a8"/>
<rect x="670.59" y="507.53" width="2.10" height="6.93" fill="#38c8e0"/>
<rect x="672.27" y="527.85" width="2.10" height="15.05" fill="#d9fb2c"/>
<rect x="672.27" y="515.66" width="2.10" height="10.99" fill="#38f05e"/>
<rect x="672.27" y="511.59" width="2.10" height="2.86" fill="#3ce8a8"/>
<rect x="672.27" y="507.53" width="2.10" height="2.86" fill="#38c8e0"/>
<rect x="672.27" y="479.09" width="2.10" height="27.24" fill="#3a30c0"/>
<rect x="672.27" y="475.03" width="2.10" height="2.86" fill="#6a2aa8"/>
<rect x="673.95" y="540.04" width="2.10" height="2.86" fill="#fdbc25"/>
<rect x="673.95" y="531.91" width="2.10" height="6.93" fill="#d9fb2c"/>
<rect x="673.95" y="523.78" width="2.10" height="6.93" fill="#78f534"/>
<rect x="673.95" y="515.66" width="2.10" height="6.93" fill="#38f05e"/>
<rect x="673.95" y="507.53" width="2.10" height="6.93" fill="#38c8e0"/>
<rect x="673.95" y="495.34" width="2.10" height="10.99" fill="#3575d0"/>
<rect x="673.95" y="491.28" width="2.10" height="2.86" fill="#92268e"/>
<rect x="675.63" y="527.85" width="2.10" height="15.05" fill="#d9fb2c"/>
<rect x="675.63" y="519.72" width="2.10" height="6.93" fill="#38f05e"/>
<rect x="675.63" y="507.53" width="2.10" height="10.99" fill="#38c8e0"/>
<rect x="675.63" y="487.22" width="2.10" height="19.12" fill="#3575d0"/>
<rect x="675.63" y="483.15" width="2.10" height="2.86" fill="#3a30c0"/>
<rect x="677.31" y="540.04" width="2.10" height="2.86" fill="#fdbc25"/>
<rect x="677.31" y="523.78" width="2.10" height="15.05" fill="#d9fb2c"/>
<rect x="677.31" y="515.66" width="2.10" height="6.93" fill="#38f05e"/>
<rect x="677.31" y="483.15" width="2.10" height="31.31" fill="#38c8e0"/>
<rect x="677.31" y="466.90" width="2.10" height="15.05" fill="#6a2aa8"/>
<rect x="677.31" y="462.84" width="2.10" height="2.86" fill="#92268e"/>
<rect x="678.99" y="531.91" width="2.10" height="10.99" fill="#d9fb2c"/>
<rect x="678.99" y="519.72" width="2.10" height="10.99" fill="#38f05e"/>
<rect x="678.99" y="511.59" width="2.10" height="6.93" fill="#3ce8a8"/>
<rect x="678.99" y="503.47" width="2.10" height="6.93" fill="#38c8e0"/>
<rect x="678.99" y="499.41" width="2.10" height="2.86" fill="#3a30c0"/>
<rect x="678.99" y="495.34" width="2.10" height="2.86" fill="#6a2aa8"/>
<rect x="678.99" y="487.22" width="2.10" height="6.93" fill="#92268e"/>
<rect x="680.67" y="535.97" width="2.10" height="6.93" fill="#d9fb2c"/>
<rect x="680.67" y="527.85" width="2.10" height="6.93" fill="#78f534"/>
<rect x="680.67" y="523.78" width="2.10" height="2.86" fill="#38f05e"/>
<rect x="680.67" y="519.72" width="2.10" height="2.86" fill="#3ce8a8"/>
<rect x="680.67" y="515.66" width="2.10" height="2.86" fill="#38c8e0"/>
<rect x="680.67" y="503.47" width="2.10" height="10.99" fill="#3575d0"/>
<rect x="680.67" y="495.34" width="2.10" height="6.93" fill="#6a2aa8"/>
<rect x="682.35" y="531.91" width="2.10" height="10.99" fill="#d9fb2c"/>
<rect x="682.35" y="523.78" width="2.10" height="6.93" fill="#78f534"/>
<rect x="682.35" y="519.72" width="2.10" height="2.86" fill="#38f05e"/>
<rect x="682.35" y="515.66" width="2.10" height="2.86" fill="#3ce8a8"/>
<rect x="682.35" y="503.47" width="2.10" height="10.99" fill="#3a30c0"/>
<rect x="682.35" y="495.34" width="2.10" height="6.93" fill="#6a2aa8"/>
<rect x="682.35" y="491.28" width="2.10" height="2.86" fill="#92268e"/>
<rect x="684.04" y="540.04" width="2.10" height="2.86" fill="#fdbc25"/>
<rect x="684.04" y="527.85" width="2.10" height="10.99" fill="#d9fb2c"/>
<rect x="684.04" y="519.72" width="2.10" height="6.93" fill="#78f534"/>
<rect x="684.04" y="515.66" width="2.10" height="2.86" fill="#38f05e"/>
<rect x="684.04" y="499.41" width="2.10" height="15.05" fill="#3ce8a8"/>
<rect x="684.04" y="487.22" width="2.10" height="10.99" fill="#6a2aa8"/>
<rect x="685.72" y="527.85" width="2.10" height="15.05" fill="#d9fb2c"/>
<rect x="685.72" y="515.66" width="2.10" height="10.99" fill="#78f534"/>
<rect x="685.72" y="503.47" width="2.10" height="10.99" fill="#38f05e"/>
<rect x="685.72" y="491.28" width="2.10" height="10.99" fill="#3ce8a8"/>
<rect x="685.72" y="475.03" width="2.10" height="15.05" fill="#3575d0"/>
<rect x="685.72" y="462.84" width="2.10" height="10.99" fill="#3a30c0"/>
<rect x="685.72" y="454.71" width="2.10" height="6.93" fill="#6a2aa8"/>
<rect x="687.40" y="531.91" width="2.10" height="10.99" fill="#d9fb2c"/>
<rect x="687.40" y="519.72" width="2.10" height="10.99" fill="#78f534"/>
<rect x="687.40" y="511.59" width="2.10" height="6.93" fill="#38f05e"/>
<rect x="687.40" y="507.53" width="2.10" height="2.86" fill="#3ce8a8"/>
<rect x="687.40" y="499.41" width="2.10" height="6.93" fill="#38c8e0"/>
<rect x="687.40" y="479.09" width="2.10" height="19.12" fill="#3575d0"/>
<rect x="687.40" y="475.03" width="2.10" height="2.86" fill="#3a30c0"/>
<rect x="687.40" y="458.77" width="2.10" height="15.05" fill="#6a2aa8"/>
<rect x="687.40" y="442.52" width="2.10" height="15.05" fill="#92268e"/>
<rect x="687.40" y="438.46" width="2.10" height="2.86" fill="#7a1e48"/>
<rect x="689.08" y="523.78" width="2.10" height="19.12" fill="#d9fb2c"/>
<rect x="689.08" y="511.59" width="2.10" height="10.99" fill="#78f534"/>
<rect x="689.08" y="487.22" width="2.10" height="23.18" fill="#38f05e"/>
<rect x="690.76" y="523.78" width="2.10" height="19.12" fill="#d9fb2c"/>
<rect x="690.76" y="507.53" width="2.10" height="15.05" fill="#78f534"/>
<rect x="690.76" y="446.58" width="2.10" height="59.75" fill="#38f05e"/>
<rect x="690.76" y="405.95" width="2.10" height="39.43" fill="#3ce8a8"/>
<rect x="690.76" y="357.19" width="2.10" height="47.56" fill="#38c8e0"/>
<rect x="690.76" y="284.06" width="2.10" height="71.94" fill="#3a30c0"/>
<rect x="690.76" y="198.73" width="2.10" height="84.13" fill="#6a2aa8"/>
<rect x="690.76" y="162.16" width="2.10" height="35.37" fill="#92268e"/>
<rect x="690.76" y="158.10" width="2.10" height="2.86" fill="#7a1e48"/>
<rect x="692.44" y="523.78" width="2.10" height="19.12" fill="#d9fb2c"/>
<rect x="692.44" y="515.66" width="2.10" height="6.93" fill="#78f534"/>
<rect x="692.44" y="507.53" width="2.10" height="6.93" fill="#38f05e"/>
<rect x="692.44" y="495.34" width="2.10" height="10.99" fill="#3ce8a8"/>
<rect x="692.44" y="454.71" width="2.10" height="39.43" fill="#38c8e0"/>
<rect x="692.44" y="450.65" width="2.10" height="2.86" fill="#3575d0"/>
<rect x="692.44" y="426.27" width="2.10" height="23.18" fill="#3a30c0"/>
<rect x="692.44" y="377.51" width="2.10" height="47.56" fill="#6a2aa8"/>
<rect x="692.44" y="365.32" width="2.10" height="10.99" fill="#92268e"/>
<rect x="694.12" y="531.91" width="2.10" height="10.99" fill="#d9fb2c"/>
<rect x="694.12" y="523.78" width="2.10" height="6.93" fill="#78f534"/>
<rect x="694.12" y="515.66" width="2.10" height="6.93" fill="#38f05e"/>
<rect x="694.12" y="503.47" width="2.10" height="10.99" fill="#3ce8a8"/>
<rect x="694.12" y="499.41" width="2.10" height="2.86" fill="#38c8e0"/>
<rect x="694.12" y="475.03" width="2.10" height="23.18" fill="#3575d0"/>
<rect x="694.12" y="466.90" width="2.10" height="6.93" fill="#3a30c0"/>
<rect x="694.12" y="458.77" width="2.10" height="6.93" fill="#6a2aa8"/>
<rect x="695.80" y="535.97" width="2.10" height="6.93" fill="#d9fb2c"/>
<rect x="695.80" y="531.91" width="2.10" height="2.86" fill="#38f05e"/>
<rect x="695.80" y="515.66" width="2.10" height="15.05" fill="#3ce8a8"/>
<rect x="695.80" y="507.53" width="2.10" height="6.93" fill="#6a2aa8"/>
<rect x="695.80" y="503.47" width="2.10" height="2.86" fill="#92268e"/>
<rect x="697.48" y="540.04" width="2.10" height="2.86" fill="#fdbc25"/>
<rect x="697.48" y="523.78" width="2.10" height="15.05" fill="#d9fb2c"/>
<rect x="697.48" y="507.53" width="2.10" height="15.05" fill="#78f534"/>
<rect x="697.48" y="450.65" width="2.10" height="55.68" fill="#38c8e0"/>
<rect x="697.48" y="438.46" width="2.10" height="10.99" fill="#3a30c0"/>
<rect x="697.48" y="430.33" width="2.10" height="6.93" fill="#6a2aa8"/>
<rect x="697.48" y="426.27" width="2.10" height="2.86" fill="#7a1e48"/>
<rect x="699.16" y="540.04" width="2.10" height="2.86" fill="#fdbc25"/>
<rect x="699.16" y="523.78" width="2.10" height="15.05" fill="#d9fb2c"/>
<rect x="699.16" y="515.66" width="2.10" height="6.93" fill="#78f534"/>
<rect x="699.16" y="511.59" width="2.10" height="2.86" fill="#38f05e"/>
<rect x="699.16" y="507.53" width="2.10" height="2.86" fill="#3ce8a8"/>
<rect x="699.16" y="487.22" width="2.10" height="19.12" fill="#38c8e0"/>
<rect x="699.16" y="462.84" width="2.10" height="23.18" fill="#3575d0"/>
<rect x="699.16" y="397.83" width="2.10" height="63.81" fill="#3a30c0"/>
<rect x="699.16" y="373.45" width="2.10" height="23.18" fill="#6a2aa8"/>
<rect x="699.16" y="361.26" width="2.10" height="10.99" fill="#92268e"/>
<rect x="700.84" y="531.91" width="2.10" height="10.99" fill="#d9fb2c"/>
<rect x="700.84" y="523.78" width="2.10" height="6.93" fill="#78f534"/>
<rect x="700.84" y="515.66" width="2.10" height="6.93" fill="#38f05e"/>
<rect x="700.84" y="507.53" width="2.10" height="6.93" fill="#3ce8a8"/>
<rect x="700.84" y="495.34" width="2.10" height="10.99" fill="#38c8e0"/>
<rect x="700.84" y="491.28" width="2.10" height="2.86" fill="#3575d0"/>
<rect x="700.84" y="475.03" width="2.10" height="15.05" fill="#3a30c0"/>
<rect x="700.84" y="446.58" width="2.10" height="27.24" fill="#6a2aa8"/>
<rect x="700.84" y="426.27" width="2.10" height="19.12" fill="#92268e"/>
<rect x="702.52" y="540.04" width="2.10" height="2.86" fill="#fdbc25"/>
<rect x="702.52" y="519.72" width="2.10" height="19.12" fill="#d9fb2c"/>
<rect x="702.52" y="515.66" width="2.10" height="2.86" fill="#78f534"/>
<rect x="702.52" y="511.59" width="2.10" height="2.86" fill="#38f05e"/>
<rect x="702.52" y="503.47" width="2.10" height="6.93" fill="#3ce8a8"/>
<rect x="702.52" y="491.28" width="2.10" height="10.99" fill="#38c8e0"/>
<rect x="702.52" y="462.84" width="2.10" height="27.24" fill="#3575d0"/>
<rect x="702.52" y="458.77" width="2.10" height="2.86" fill="#3a30c0"/>
<rect x="704.20" y="540.04" width="2.10" height="2.86" fill="#fdbc25"/>
<rect x="704.20" y="519.72" width="2.10" height="19.12" fill="#d9fb2c"/>
<rect x="704.20" y="515.66" width="2.10" height="2.86" fill="#78f534"/>
<rect x="704.20" y="507.53" width="2.10" height="6.93" fill="#38f05e"/>
<rect x="704.20" y="503.47" width="2.10" height="2.86" fill="#3ce8a8"/>
<rect x="704.20" y="495.34" width="2.10" height="6.93" fill="#38c8e0"/>
<rect x="704.20" y="450.65" width="2.10" height="43.49" fill="#3575d0"/>
<rect x="704.20" y="446.58" width="2.10" height="2.86" fill="#3a30c0"/>
<rect x="704.20" y="442.52" width="2.10" height="2.86" fill="#6a2aa8"/>
<rect x="704.20" y="438.46" width="2.10" height="2.86" fill="#92268e"/>
<rect x="705.88" y="531.91" width="2.10" height="10.99" fill="#d9fb2c"/>
<rect x="705.88" y="523.78" width="2.10" height="6.93" fill="#78f534"/>
<rect x="705.88" y="519.72" width="2.10" height="2.86" fill="#38f05e"/>
<rect x="705.88" y="511.59" width="2.10" height="6.93" fill="#3ce8a8"/>
<rect x="705.88" y="499.41" width="2.10" height="10.99" fill="#38c8e0"/>
<rect x="705.88" y="434.39" width="2.10" height="63.81" fill="#3575d0"/>
<rect x="705.88" y="418.14" width="2.10" height="15.05" fill="#3a30c0"/>
<rect x="705.88" y="414.08" width="2.10" height="2.86" fill="#92268e"/>
<rect x="707.56" y="527.85" width="2.10" height="15.05" fill="#d9fb2c"/>
<rect x="707.56" y="519.72" width="2.10" height="6.93" fill="#78f534"/>
<rect x="707.56" y="515.66" width="2.10" height="2.86" fill="#38f05e"/>
<rect x="707.56" y="503.47" width="2.10" height="10.99" fill="#3ce8a8"/>
<rect x="707.56" y="495.34" width="2.10" height="6.93" fill="#38c8e0"/>
<rect x="707.56" y="487.22" width="2.10" height="6.93" fill="#3575d0"/>
<rect x="707.56" y="462.84" width="2.10" height="23.18" fill="#6a2aa8"/>
<rect x="709.25" y="535.97" width="2.10" height="6.93" fill="#fdbc25"/>
<rect x="709.25" y="527.85" width="2.10" height="6.93" fill="#d9fb2c"/>
<rect x="709.25" y="519.72" width="2.10" height="6.93" fill="#78f534"/>
<rect x="709.25" y="515.66" width="2.10" height="2.86" fill="#38f05e"/>
<rect x="709.25" y="507.53" width="2.10" height="6.93" fill="#3ce8a8"/>
<rect x="709.25" y="499.41" width="2.10" height="6.93" fill="#38c8e0"/>
<rect x="709.25" y="495.34" width="2.10" height="2.86" fill="#3575d0"/>
<rect x="709.25" y="483.15" width="2.10" height="10.99" fill="#92268e"/>
<rect x="710.93" y="540.04" width="2.10" height="2.86" fill="#38f05e"/>
<rect x="710.93" y="507.53" width="2.10" height="31.31" fill="#38c8e0"/>
<rect x="710.93" y="499.41" width="2.10" height="6.93" fill="#3575d0"/>
<rect x="710.93" y="495.34" width="2.10" height="2.86" fill="#3a30c0"/>
<rect x="712.61" y="527.85" width="2.10" height="15.05" fill="#d9fb2c"/>
<rect x="712.61" y="519.72" width="2.10" height="6.93" fill="#78f534"/>
<rect x="712.61" y="515.66" width="2.10" height="2.86" fill="#38f05e"/>
<rect x="712.61" y="507.53" width="2.10" height="6.93" fill="#3ce8a8"/>
<rect x="712.61" y="503.47" width="2.10" height="2.86" fill="#38c8e0"/>
<rect x="712.61" y="491.28" width="2.10" height="10.99" fill="#3575d0"/>
<rect x="712.61" y="487.22" width="2.10" height="2.86" fill="#3a30c0"/>
<rect x="712.61" y="470.96" width="2.10" height="15.05" fill="#6a2aa8"/>
<rect x="712.61" y="462.84" width="2.10" height="6.93" fill="#92268e"/>
<rect x="714.29" y="540.04" width="2.10" height="2.86" fill="#d9fb2c"/>
<rect x="714.29" y="535.97" width="2.10" height="2.86" fill="#3a30c0"/>
<rect x="714.29" y="523.78" width="2.10" height="10.99" fill="#6a2aa8"/>
<rect x="715.97" y="540.04" width="2.10" height="2.86" fill="#d9fb2c"/>
<rect x="715.97" y="535.97" width="2.10" height="2.86" fill="#78f534"/>
<rect x="715.97" y="531.91" width="2.10" height="2.86" fill="#38f05e"/>
<rect x="715.97" y="527.85" width="2.10" height="2.86" fill="#3575d0"/>
<rect x="715.97" y="519.72" width="2.10" height="6.93" fill="#3a30c0"/>
<rect x="715.97" y="507.53" width="2.10" height="10.99" fill="#6a2aa8"/>
<rect x="717.65" y="540.04" width="2.10" height="2.86" fill="#fdbc25"/>
<rect x="717.65" y="535.97" width="2.10" height="2.86" fill="#d9fb2c"/>
<rect x="717.65" y="531.91" width="2.10" height="2.86" fill="#78f534"/>
<rect x="717.65" y="527.85" width="2.10" height="2.86" fill="#38f05e"/>
<rect x="717.65" y="495.34" width="2.10" height="31.31" fill="#38c8e0"/>
<rect x="717.65" y="491.28" width="2.10" height="2.86" fill="#3575d0"/>
<rect x="717.65" y="483.15" width="2.10" height="6.93" fill="#3a30c0"/>
<rect x="717.65" y="470.96" width="2.10" height="10.99" fill="#6a2aa8"/>
<rect x="717.65" y="462.84" width="2.10" height="6.93" fill="#92268e"/>
<rect x="717.65" y="458.77" width="2.10" height="2.86" fill="#7a1e48"/>
<rect x="719.33" y="540.04" width="2.10" height="2.86" fill="#d9fb2c"/>
<rect x="719.33" y="535.97" width="2.10" height="2.86" fill="#3ce8a8"/>
<rect x="719.33" y="531.91" width="2.10" height="2.86" fill="#3a30c0"/>
<rect x="719.33" y="511.59" width="2.10" height="19.12" fill="#6a2aa8"/>
<rect x="719.33" y="507.53" width="2.10" height="2.86" fill="#7a1e48"/>
<rect x="721.01" y="540.04" width="2.10" height="2.86" fill="#d9fb2c"/>
<rect x="721.01" y="535.97" width="2.10" height="2.86" fill="#78f534"/>
<rect x="721.01" y="531.91" width="2.10" height="2.86" fill="#3575d0"/>
<rect x="721.01" y="523.78" width="2.10" height="6.93" fill="#6a2aa8"/>
<rect x="721.01" y="507.53" width="2.10" height="15.05" fill="#92268e"/>
<rect x="722.69" y="540.04" width="2.10" height="2.86" fill="#d9fb2c"/>
<rect x="722.69" y="535.97" width="2.10" height="2.86" fill="#38f05e"/>
<rect x="722.69" y="531.91" width="2.10" height="2.86" fill="#3ce8a8"/>
<rect x="722.69" y="523.78" width="2.10" height="6.93" fill="#6a2aa8"/>
<rect x="722.69" y="515.66" width="2.10" height="6.93" fill="#92268e"/>
<rect x="724.37" y="540.04" width="2.10" height="2.86" fill="#d9fb2c"/>
<rect x="724.37" y="535.97" width="2.10" height="2.86" fill="#78f534"/>
<rect x="724.37" y="531.91" width="2.10" height="2.86" fill="#38c8e0"/>
<rect x="724.37" y="527.85" width="2.10" height="2.86" fill="#3a30c0"/>
<rect x="724.37" y="519.72" width="2.10" height="6.93" fill="#6a2aa8"/>
<rect x="724.37" y="511.59" width="2.10" height="6.93" fill="#92268e"/>
<rect x="724.37" y="503.47" width="2.10" height="6.93" fill="#7a1e48"/>
<rect x="726.05" y="540.04" width="2.10" height="2.86" fill="#d9fb2c"/>
<rect x="726.05" y="535.97" width="2.10" height="2.86" fill="#78f534"/>
<rect x="726.05" y="531.91" width="2.10" height="2.86" fill="#38f05e"/>
<rect x="726.05" y="527.85" width="2.10" height="2.86" fill="#6a2aa8"/>
<rect x="726.05" y="523.78" width="2.10" height="2.86" fill="#92268e"/>
<rect x="727.73" y="540.04" width="2.10" height="2.86" fill="#d9fb2c"/>
<rect x="727.73" y="535.97" width="2.10" height="2.86" fill="#38f05e"/>
<rect x="727.73" y="531.91" width="2.10" height="2.86" fill="#3ce8a8"/>
<rect x="727.73" y="523.78" width="2.10" height="6.93" fill="#38c8e0"/>
<rect x="727.73" y="499.41" width="2.10" height="23.18" fill="#3a30c0"/>
<rect x="727.73" y="495.34" width="2.10" height="2.86" fill="#6a2aa8"/>
<rect x="727.73" y="487.22" width="2.10" height="6.93" fill="#92268e"/>
<rect x="729.41" y="540.04" width="2.10" height="2.86" fill="#fdbc25"/>
<rect x="729.41" y="535.97" width="2.10" height="2.86" fill="#3ce8a8"/>
<rect x="729.41" y="519.72" width="2.10" height="15.05" fill="#38c8e0"/>
<rect x="729.41" y="499.41" width="2.10" height="19.12" fill="#3a30c0"/>
<rect x="729.41" y="495.34" width="2.10" height="2.86" fill="#6a2aa8"/>
<rect x="729.41" y="479.09" width="2.10" height="15.05" fill="#92268e"/>
<rect x="731.09" y="540.04" width="2.10" height="2.86" fill="#38c8e0"/>
<rect x="731.09" y="531.91" width="2.10" height="6.93" fill="#3a30c0"/>
<rect x="731.09" y="527.85" width="2.10" height="2.86" fill="#6a2aa8"/>
<rect x="731.09" y="519.72" width="2.10" height="6.93" fill="#92268e"/>
<rect x="732.78" y="535.97" width="2.10" height="6.93" fill="#38c8e0"/>
<rect x="732.78" y="531.91" width="2.10" height="2.86" fill="#3a30c0"/>
<rect x="732.78" y="527.85" width="2.10" height="2.86" fill="#6a2aa8"/>
<rect x="732.78" y="523.78" width="2.10" height="2.86" fill="#92268e"/>
<rect x="734.46" y="535.97" width="2.10" height="6.93" fill="#3a30c0"/>
<rect x="736.14" y="540.04" width="2.10" height="2.86" fill="#7a1e48"/>
<rect x="737.82" y="540.04" width="2.10" height="2.86" fill="#38f05e"/>
<rect x="737.82" y="535.97" width="2.10" height="2.86" fill="#3ce8a8"/>
<rect x="737.82" y="531.91" width="2.10" height="2.86" fill="#6a2aa8"/>
<rect x="739.50" y="540.04" width="2.10" height="2.86" fill="#d9fb2c"/>
<rect x="739.50" y="535.97" width="2.10" height="2.86" fill="#3ce8a8"/>
<rect x="739.50" y="531.91" width="2.10" height="2.86" fill="#6a2aa8"/>
<rect x="739.50" y="527.85" width="2.10" height="2.86" fill="#92268e"/>
<rect x="741.18" y="540.04" width="2.10" height="2.86" fill="#d9fb2c"/>
<rect x="741.18" y="535.97" width="2.10" height="2.86" fill="#3ce8a8"/>
<rect x="741.18" y="531.91" width="2.10" height="2.86" fill="#3575d0"/>
<rect x="742.86" y="535.97" width="2.10" height="6.93" fill="#6a2aa8"/>
<rect x="742.86" y="531.91" width="2.10" height="2.86" fill="#92268e"/>
<rect x="746.22" y="540.04" width="2.10" height="2.86" fill="#d9fb2c"/>
<rect x="747.90" y="540.04" width="2.10" height="2.86" fill="#3ce8a8"/>
<rect x="747.90" y="535.97" width="2.10" height="2.86" fill="#3a30c0"/>
<rect x="751.26" y="540.04" width="2.10" height="2.86" fill="#3575d0"/>
<rect x="752.94" y="540.04" width="2.10" height="2.86" fill="#78f534"/>
<rect x="752.94" y="535.97" width="2.10" height="2.86" fill="#38f05e"/>
<rect x="754.62" y="535.97" width="2.10" height="6.93" fill="#78f534"/>
<rect x="756.31" y="531.91" width="2.10" height="10.99" fill="#78f534"/>
</g>
</svg>
</body></html>
